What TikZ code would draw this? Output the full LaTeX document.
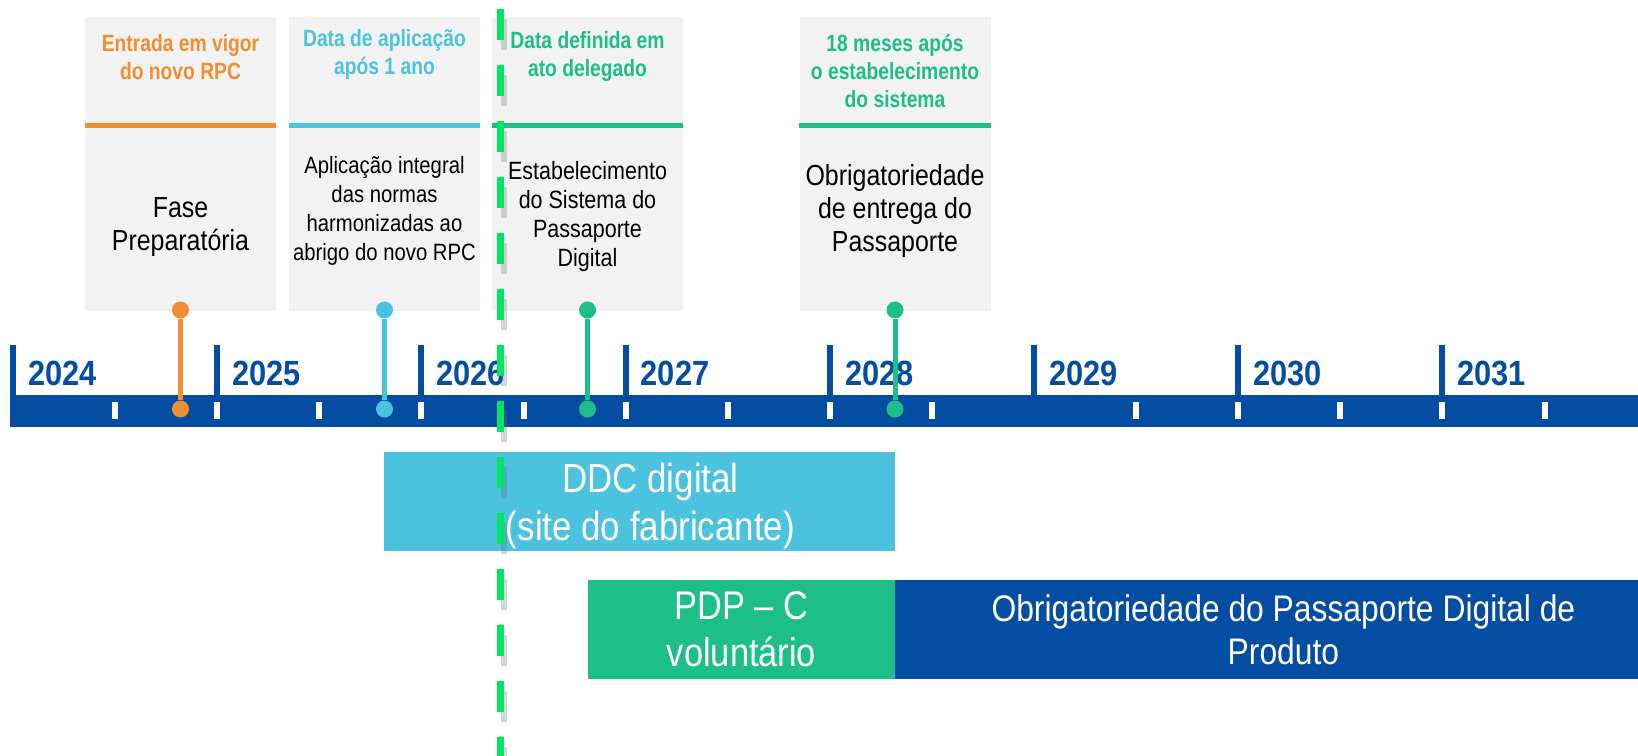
\documentclass[tikz,border=0pt]{standalone}
\usepackage{fontspec}
\setmainfont{Liberation Sans}
\newfontfamily\headfont[FakeStretch=0.82]{Liberation Sans}
\newfontfamily\bodyfont[FakeStretch=0.86]{Liberation Sans}
\newfontfamily\yearfont[FakeStretch=0.88]{Liberation Sans}
\usetikzlibrary{positioning}

\definecolor{evorange}{RGB}{240,142,50}
\definecolor{evcyan}{RGB}{75,195,222}
\definecolor{evgreen}{RGB}{30,190,137}
\definecolor{tlblue}{RGB}{3,78,162}
\definecolor{cardgray}{RGB}{242,242,242}
\definecolor{cutgreen}{RGB}{0,230,100}

\tikzset{
  card/.style={fill=cardgray, minimum width=191pt, minimum height=294pt, inner sep=0pt},
  head/.style={align=center, inner sep=0pt, font=\headfont\bfseries\fontsize{23.5}{28}\selectfont},
  body/.style={align=center, inner sep=0pt},
  rule/.style={line width=5.5pt},
  dot/.style={circle, inner sep=0pt, minimum size=17pt},
  stem/.style={line width=5pt},
  yeartick/.style={tlblue, line width=6pt},
  yearlabel/.style={anchor=base west, inner sep=0pt, text=tlblue, font=\yearfont\bfseries\fontsize{35}{40}\selectfont},
  phase/.style={minimum height=99pt, inner sep=0pt, align=center, text=white},
  phaselabel/.style={inner sep=0pt, align=center, text=white},
  cutline/.style={cutgreen, line width=7pt, dash pattern=on 31pt off 25pt},
  cutshadow/.style={black!55, opacity=0.3, line width=6pt, dash pattern=on 31pt off 25pt}
}

\begin{document}
\begin{tikzpicture}[x=1pt,y=-1pt]
\useasboundingbox (0,0) rectangle (1638,755);

% timeline
\fill[tlblue] (10,395) rectangle (1660,427);
\foreach \y [count=\i from 0] in {2024,...,2031}{
  \draw[yeartick] ({13+204.2*\i},345) -- ({13+204.2*\i},396);
  \node[yearlabel] (yr\y) at ({28+204.2*\i},385) {\y};
}
\foreach \k in {1,...,15}{
  \ifnum\k=10\else
    \fill[white] ({13+102.1*\k-3},402) rectangle ++(6,17);
  \fi
}

% cards
\node[card] (card1) at (180.5,164) {};
\node[card] (card2) at (384.5,164) {};
\node[card] (card3) at (587.5,164) {};
\node[card] (card4) at (895,164) {};

\draw[rule, evorange] ([yshift=-108.5pt]card1.north west) -- ([yshift=-108.5pt]card1.north east);
\draw[rule, evcyan] ([yshift=-108.5pt]card2.north west) -- ([yshift=-108.5pt]card2.north east);
\draw[rule, evgreen] ([yshift=-108.5pt]card3.north west) -- ([yshift=-108.5pt]card3.north east);
\draw[rule, evgreen] ([yshift=-108.5pt]card4.north west) -- ([yshift=-108.5pt]card4.north east);

\node[head, text=evorange] (head1) at ([yshift=-40pt]card1.north) {Entrada em vigor\\do novo RPC};
\node[head, text=evcyan] (head2) at ([yshift=-38pt]card2.north) {Data de aplicação\\após 1 ano};
\node[head, text=evgreen] (head3) at ([yshift=-40pt]card3.north) {Data definida em\\ato delegado};
\node[head, text=evgreen] (head4) at ([yshift=-54pt]card4.north) {18 meses após\\o estabelecimento\\do sistema};

\node[body, font=\bodyfont\fontsize{29}{33}\selectfont] (text1) at ([yshift=-210pt]card1.north) {Fase\\Preparatória};
\node[body, font=\bodyfont\fontsize{23.6}{29}\selectfont] (text2) at ([yshift=-194pt]card2.north) {Aplicação integral\\das normas\\harmonizadas ao\\abrigo do novo RPC};
\node[body, font=\bodyfont\fontsize{25}{29}\selectfont] (text3) at ([yshift=-200pt]card3.north) {Estabelecimento\\do Sistema do\\Passaporte\\Digital};
\node[body, font=\bodyfont\fontsize{29}{33}\selectfont] (text4) at ([yshift=-194pt]card4.north) {Obrigatoriedade\\de entrega do\\Passaporte};

% markers
\node[dot, fill=evorange] (top1) at (180.5,310) {};
\node[dot, fill=evorange] (pin1) at (180.5,409) {};
\node[dot, fill=evcyan] (top2) at (384.5,310) {};
\node[dot, fill=evcyan] (pin2) at (384.5,409) {};
\node[dot, fill=evgreen] (top3) at (587.5,310) {};
\node[dot, fill=evgreen] (pin3) at (587.5,409) {};
\node[dot, fill=evgreen] (top4) at (895,310) {};
\node[dot, fill=evgreen] (pin4) at (895,409) {};
\draw[stem, evorange] (top1) -- (pin1);
\draw[stem, evcyan] (top2) -- (pin2);
\draw[stem, evgreen] (top3) -- (pin3);
\draw[stem, evgreen] (top4) -- (pin4);

% phases
\node[phase, fill=evcyan, minimum width=511pt] (ddc) at (639.5,501) {};
\node[phaselabel, font=\bodyfont\fontsize{40.6}{48}\selectfont] (ddctext) at ([xshift=11pt,yshift=-5pt]ddc.center) {DDC digital\\(site do fabricante)};
\node[phase, fill=evgreen, minimum width=307pt, font=\bodyfont\fontsize{40}{47}\selectfont] (pdpc) at (741.5,629.5) {PDP – C\\voluntário};
\node[phase, fill=tlblue, minimum width=776pt, font=\bodyfont\fontsize{37}{43}\selectfont, right=0pt of pdpc] (pdp) {Obrigatoriedade do Passaporte Digital de\\Produto};

% cut-off line
\coordinate (cuttop) at (500,9);
\coordinate (cutbot) at (500,770);
\draw[cutshadow] ([shift={(4,10)}]cuttop) -- ([shift={(4,10)}]cutbot);
\draw[cutline] (cuttop) -- (cutbot);
\end{tikzpicture}
\end{document}
